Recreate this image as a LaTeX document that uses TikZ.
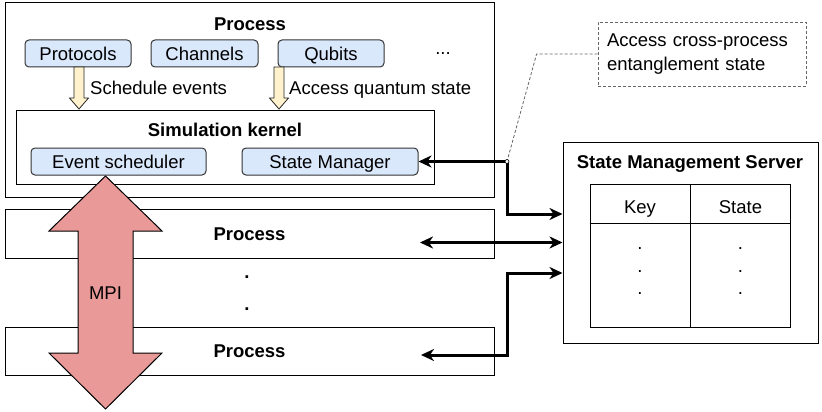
\documentclass[tikz,border=0pt]{standalone}
\usepackage{fontspec}
\setmainfont{Liberation Sans}
\usepackage{tikz}
\usetikzlibrary{calc,arrows.meta}
\definecolor{modblue}{HTML}{DAE8FC}
\definecolor{flowyellow}{HTML}{FFF2CC}
\definecolor{mpired}{HTML}{EA9999}

\begin{document}
\begin{tikzpicture}[x=1pt,y=-1pt,
  every node/.style={font=\fontsize{18.5}{24}\selectfont},
  frame/.style={draw,line width=1pt,inner sep=0pt},
  txt/.style={inner sep=0pt,text height=13.3pt,text depth=0pt},
  title/.style={txt,font=\fontsize{18.5}{24}\selectfont\bfseries},
  module/.style={txt,draw=black!80,line width=1pt,fill=modblue,rounded corners=4pt,minimum height=27pt},
  flow/.style={draw=black!85,line width=0.8pt,fill=flowyellow},
  note/.style={draw=black!60,line width=0.8pt,dash pattern=on 3pt off 2pt,align=left,inner ysep=0pt},
  link/.style={line width=3pt,{Stealth[length=13pt,width=12pt,inset=4pt]}-{Stealth[length=13pt,width=12pt,inset=4pt]}},
  mpi/.style={draw,line width=1pt,fill=mpired,line join=miter}]
\useasboundingbox (0,0) rectangle (822,412);
\node[frame,minimum width=489pt,minimum height=194pt] (proc1) at (249.5,100) {}; \node[title] (proc1title) at (250,24) {Process};
\node[module,minimum width=106pt] (prot) at (78,53.5) {Protocols}; \node[module,minimum width=107pt] (chan) at (204.5,53.5) {Channels};
\node[module,minimum width=106pt] (qubits) at (331,53.5) {Qubits}; \node[anchor=base,inner sep=0pt] (more) at (443,54.5) {...};
\node[frame,minimum width=418pt,minimum height=74pt] (kernel) at (225,147) {}; \node[title] (kerneltitle) at (225,129.5) {Simulation kernel};
\node[module,minimum width=175pt] (evsched) at (118.5,161.5) {Event scheduler}; \node[module,minimum width=176pt] (stman) at (330,161.5) {State Manager};
\coordinate (schedtop) at (79,67); \coordinate (accesstop) at (279,67);
\draw[flow] (schedtop) ++(-5,0) -- ++(10,0) -- ++(0,31) -- ++(4.5,0) -- ++(-9.5,11) -- ++(-9.5,-11) -- ++(4.5,0) -- cycle;
\draw[flow] (accesstop) ++(-5,0) -- ++(10,0) -- ++(0,31) -- ++(4.5,0) -- ++(-9.5,11) -- ++(-9.5,-11) -- ++(4.5,0) -- cycle;
\node[txt,anchor=west] (schedlabel) at (90,88) {Schedule events}; \node[txt,anchor=west] (accesslabel) at (289,88) {Access quantum state};
\node[frame,font=\fontsize{18.5}{24}\selectfont\bfseries,text height=13.3pt,text depth=0pt,minimum width=489pt,minimum height=49pt] (proc2) at (249.5,234) {Process};
\node[frame,font=\fontsize{18.5}{24}\selectfont\bfseries,text height=13.3pt,text depth=0pt,minimum width=489pt,minimum height=48pt] (proc3) at (249.5,351) {Process};
\node[anchor=base,inner sep=0pt,font=\fontsize{18.5}{24}\selectfont\bfseries] (gap1) at (247,278) {.}; \node[anchor=base,inner sep=0pt,font=\fontsize{18.5}{24}\selectfont\bfseries] (gap2) at (247,310.7) {.};
\coordinate (mpitop) at (105.5,176);
\draw[mpi] (mpitop) -- ++(56.5,55) -- ++(-29,0) -- ++(0,122) -- ++(29,0) -- ++(-56.5,56) -- ++(-56.5,-56) -- ++(29,0) -- ++(0,-122) -- ++(-29,0) -- cycle;
\node[txt] (mpilabel) at (105.5,293) {MPI};
\node[frame,minimum width=255pt,minimum height=201pt] (server) at (690.5,242.5) {}; \node[title] (servertitle) at (690,161.7) {State Management Server};
\node[frame,minimum width=200pt,minimum height=143pt] (table) at (690,255.5) {};
\draw[line width=1pt] (table.north) -- (table.south); \draw[line width=1pt] ($(table.north west)+(0,40)$) -- ($(table.north east)+(0,40)$);
\node[txt] (keyhead) at (640,207) {Key}; \node[txt] (statehead) at (740.5,207) {State};
\foreach \y [count=\i] in {249.3,272.7,294.3} {\node[anchor=base,inner sep=0pt] (keydot\i) at (640,\y) {.}; \node[anchor=base,inner sep=0pt] (statedot\i) at (740.5,\y) {.};}
\node[note,minimum width=208pt,minimum height=64pt,text width=190pt,inner xsep=9pt] (note) at (702,54) {Access cross-process\\entanglement state};
\coordinate (junc) at (507,161.5); \coordinate (p2end) at (420,242.5); \coordinate (p3end) at (421,355);
\draw[note] (note.west) -- ++(-61,0) -- (junc);
\draw[link] (stman.east) -- (junc) |- ($(server.west)+(0,-28.5)$);
\draw[link] (p2end) -- (p2end -| server.west);
\draw[link] (p3end) -| ($(junc |- server.west)+(0,30.5)$) -- ($(server.west)+(0,30.5)$);
\node[circle,draw,fill=white,inner sep=0pt,minimum size=4pt,line width=0.6pt] (juncdot) at (junc) {};
\end{tikzpicture}
\end{document}
